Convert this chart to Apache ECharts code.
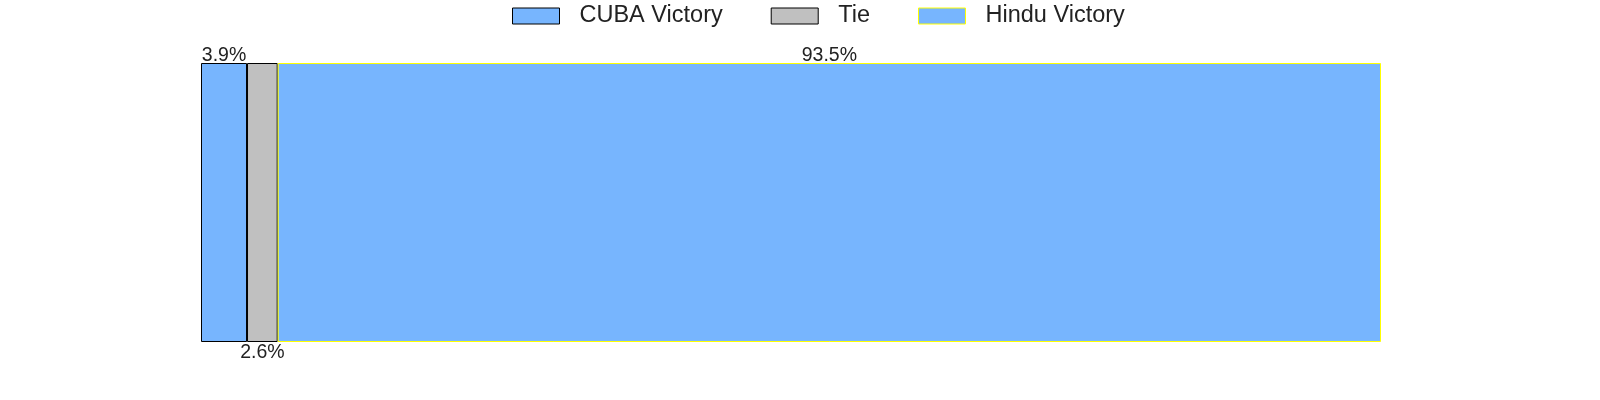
<!DOCTYPE html>
<html><head><meta charset="utf-8">
<script src="https://cdn.jsdelivr.net/npm/echarts@6/dist/echarts.min.js"></script>
<style>html,body{margin:0;padding:0;background:#fff}#c{width:1600px;height:400px}</style>
</head><body><div id="c"></div>
<script>
const categories = ['Result'];
const seriesNames = ['CUBA Victory', 'Tie', 'Hindu Victory'];
const cubaValues = [3.9];
const tieValues = [2.6];
const hinduValues = [93.5];

const chart = echarts.init(document.getElementById('c'));
const font = 'Liberation Sans, Arial, sans-serif';
function lbl(pos, dist) {
  return { show: true, position: pos, distance: dist, formatter: p => p.value.toFixed(1) + '%',
    fontFamily: font, fontSize: 19.5, color: '#222' };
}
chart.setOption({
  animation: false,
  legend: {
    left: 507, top: -1, itemWidth: 47, itemHeight: 16, itemGap: 48, icon: 'rect',
    itemStyle: { borderWidth: 1 },
    textStyle: { fontFamily: font, fontSize: 23.5, color: '#222', padding: [0, 0, 0, 15] },
    data: seriesNames
  },
  grid: { left: 201, right: 219, top: 63, bottom: 58 },
  xAxis: { type: 'value', min: 0, max: 100, show: false },
  yAxis: { type: 'category', data: categories, show: false },
  series: [
    { name: seriesNames[0], type: 'bar', stack: 's', barWidth: '100%', data: cubaValues,
      itemStyle: { color: '#77b5fe', borderColor: '#000', borderWidth: 1 }, label: lbl('top', -3) },
    { name: seriesNames[1], type: 'bar', stack: 's', barWidth: '100%', data: tieValues,
      itemStyle: { color: '#c0c0c0', borderColor: '#000', borderWidth: 1 }, label: lbl('bottom', 1) },
    { name: seriesNames[2], type: 'bar', stack: 's', barWidth: '100%', data: hinduValues,
      itemStyle: { color: '#77b5fe', borderColor: '#ffff00', borderWidth: 1 }, label: lbl('top', -3) }
  ]
});
</script></body></html>
